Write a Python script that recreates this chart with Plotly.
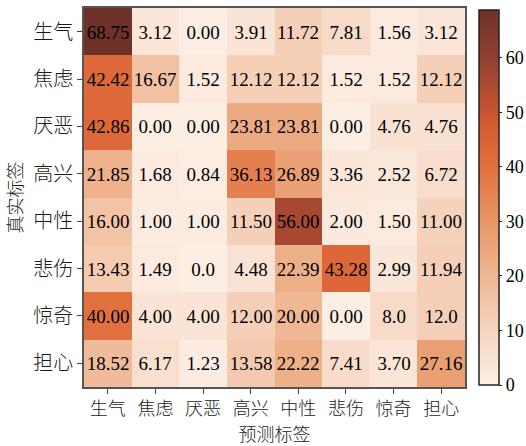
import plotly.graph_objects as go

labels = ["生气", "焦虑", "厌恶", "高兴", "中性", "悲伤", "惊奇", "担心"]
values = [
    [68.75, 3.12, 0.00, 3.91, 11.72, 7.81, 1.56, 3.12],
    [42.42, 16.67, 1.52, 12.12, 12.12, 1.52, 1.52, 12.12],
    [42.86, 0.00, 0.00, 23.81, 23.81, 0.00, 4.76, 4.76],
    [21.85, 1.68, 0.84, 36.13, 26.89, 3.36, 2.52, 6.72],
    [16.00, 1.00, 1.00, 11.50, 56.00, 2.00, 1.50, 11.00],
    [13.43, 1.49, 0.0, 4.48, 22.39, 43.28, 2.99, 11.94],
    [40.00, 4.00, 4.00, 12.00, 20.00, 0.00, 8.0, 12.0],
    [18.52, 6.17, 1.23, 13.58, 22.22, 7.41, 3.70, 27.16],
]
texts = [
    ["68.75", "3.12", "0.00", "3.91", "11.72", "7.81", "1.56", "3.12"],
    ["42.42", "16.67", "1.52", "12.12", "12.12", "1.52", "1.52", "12.12"],
    ["42.86", "0.00", "0.00", "23.81", "23.81", "0.00", "4.76", "4.76"],
    ["21.85", "1.68", "0.84", "36.13", "26.89", "3.36", "2.52", "6.72"],
    ["16.00", "1.00", "1.00", "11.50", "56.00", "2.00", "1.50", "11.00"],
    ["13.43", "1.49", "0.0", "4.48", "22.39", "43.28", "2.99", "11.94"],
    ["40.00", "4.00", "4.00", "12.00", "20.00", "0.00", "8.0", "12.0"],
    ["18.52", "6.17", "1.23", "13.58", "22.22", "7.41", "3.70", "27.16"],
]
x_title = "预测标签"
y_title = "真实标签"
cbar_ticks = [0, 10, 20, 30, 40, 50, 60]

zmax = 68.75
colorscale = [
    [0.0, "#fdeee4"],
    [10 / zmax, "#f6d5c0"],
    [20 / zmax, "#efb793"],
    [30 / zmax, "#e89666"],
    [40 / zmax, "#e1703f"],
    [45 / zmax, "#db6236"],
    [50 / zmax, "#c85431"],
    [60 / zmax, "#904033"],
    [1.0, "#6e3229"],
]

FONT = "Liberation Serif, Times New Roman, Noto Serif CJK SC, Noto Sans CJK SC, serif"
CJK = "Noto Sans CJK SC, sans-serif"

fig = go.Figure(
    go.Heatmap(
        z=values,
        x=labels,
        y=labels,
        text=texts,
        texttemplate="%{text}",
        textfont=dict(family=FONT, size=19, color="black"),
        colorscale=colorscale,
        zmin=0,
        zmax=zmax,
        xgap=0,
        ygap=0,
        colorbar=dict(
            x=1.037,
            xanchor="left",
            xpad=0,
            ypad=0,
            y=0.5,
            yanchor="middle",
            len=0.989,
            lenmode="fraction",
            thickness=20,
            outlinewidth=1.5,
            outlinecolor="#222",
            ticks="outside",
            ticklen=3,
            tickcolor="#222",
            tickvals=cbar_ticks,
            tickfont=dict(family=FONT, size=18, color="black"),
        ),
    )
)

fig.update_layout(
    width=526,
    height=446,
    margin=dict(l=84, r=61, t=8, b=59, autoexpand=False),
    paper_bgcolor="white",
    plot_bgcolor="white",
    font=dict(family=FONT, color="black"),
    xaxis=dict(
        title=dict(text=x_title, font=dict(family=CJK, size=18, color="#1a1a1a", weight=300), standoff=7),
        tickfont=dict(family=CJK, size=18, color="#1a1a1a", weight=300),
        ticks="outside",
        ticklen=5,
        tickcolor="#444",
        showline=True,
        linecolor="#555",
        linewidth=1.5,
        mirror=True,
        showgrid=False,
        zeroline=False,
    ),
    yaxis=dict(
        title=dict(text=y_title, font=dict(family=CJK, size=18, color="#1a1a1a", weight=300), standoff=6),
        tickfont=dict(family=CJK, size=20, color="#1a1a1a", weight=300),
        autorange="reversed",
        ticks="outside",
        ticklen=5,
        tickcolor="#444",
        showline=True,
        linecolor="#555",
        linewidth=1.5,
        mirror=True,
        showgrid=False,
        zeroline=False,
    ),
)

fig.write_html("out.html")
